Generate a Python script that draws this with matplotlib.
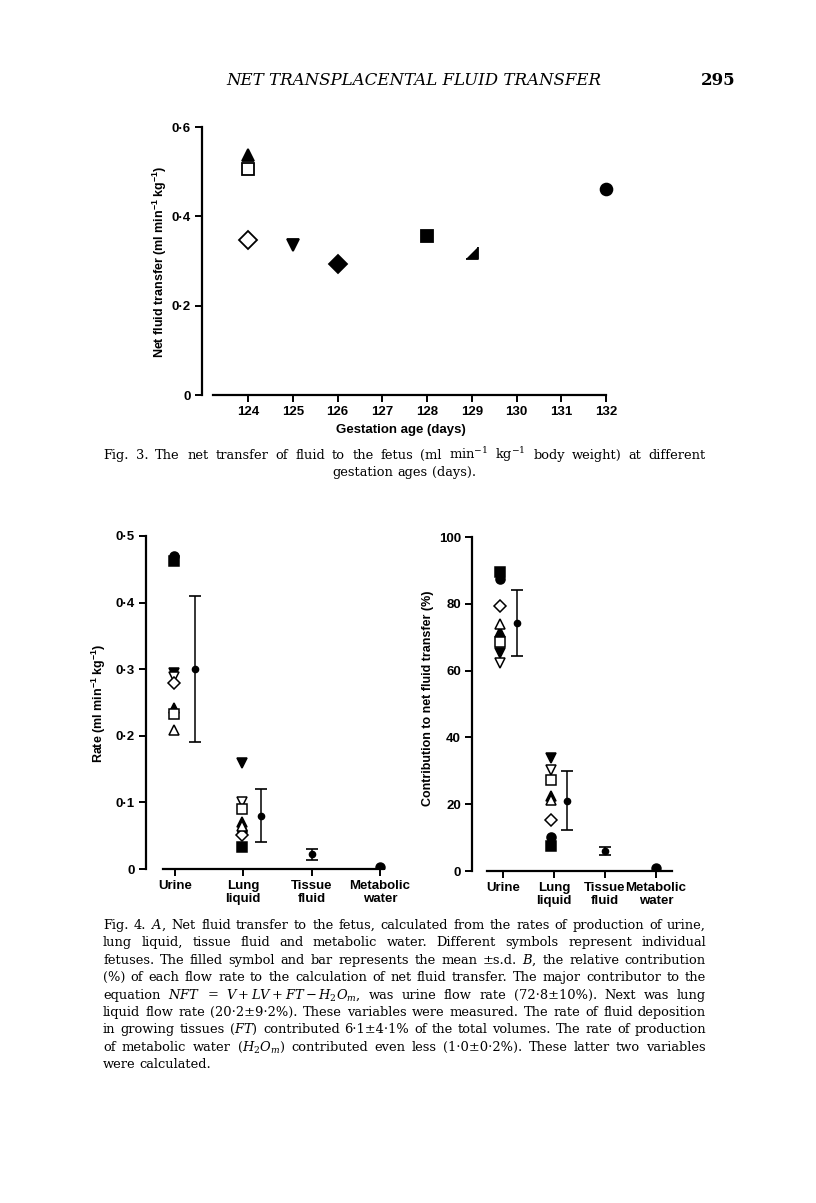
import matplotlib
matplotlib.use('Agg')
import matplotlib.pyplot as plt
from matplotlib.transforms import IdentityTransform

# ---------------- data ----------------
# Fig. 3: net fluid transfer vs gestation age
ages = [124, 124, 124, 125, 126, 128, 129, 132]
nft = [0.537, 0.505, 0.347, 0.336, 0.293, 0.357, 0.319, 0.461]
fig3_symbols = ['^', 's', 'D', 'v', 'D', 's', 'corner', 'o']
fig3_filled = [True, False, False, True, True, True, True, True]
fig3_xticks = [124, 125, 126, 127, 128, 129, 130, 131, 132]
fig3_yticks = [0, 0.2, 0.4, 0.6]
fig3_yticklabels = ['0', '0·2', '0·4', '0·6']

# Fig. 4: individual fetuses (urine and lung liquid) and means
categories = ['Urine', 'Lung\nliquid', 'Tissue\nfluid', 'Metabolic\nwater']
fetus_symbols = ['o', 's', 'v', 'v', 'D', '^', 's', '^']
fetus_filled = [True, True, True, False, False, True, False, False]
urine_rate = [0.470, 0.463, 0.294, 0.288, 0.280, 0.241, 0.233, 0.209]
lung_rate = [0.057, 0.033, 0.159, 0.101, 0.051, 0.071, 0.090, 0.065]
urine_pct = [87.5, 89.5, 65.4, 62.4, 79.2, 71.5, 68.5, 73.9]
lung_pct = [10.2, 7.4, 33.7, 30.2, 15.2, 22.5, 27.2, 21.2]
mean_rate = [0.300, 0.080, 0.022, 0.003]
sd_rate = [0.110, 0.040, 0.008, 0.0]
mean_pct = [74.2, 21.1, 5.9, 0.9]
sd_pct = [9.9, 8.8, 1.2, 0.0]
rate_yticks = [0, 0.1, 0.2, 0.3, 0.4, 0.5]
rate_yticklabels = ['0', '0·1', '0·2', '0·3', '0·4', '0·5']
pct_yticks = [0, 20, 40, 60, 80, 100]
pct_yticklabels = ['0', '20', '40', '60', '80', '100']

header = 'NET TRANSPLACENTAL FLUID TRANSFER'
page_no = '295'
fig3_caption = ['Fig. 3. The net transfer of fluid to the fetus (ml min$^{-1}$ kg$^{-1}$ body weight) at different',
                'gestation ages (days).']
fig4_caption = [
    'Fig. 4. $A$, Net fluid transfer to the fetus, calculated from the rates of production of urine,',
    'lung liquid, tissue fluid and metabolic water. Different symbols represent individual',
    'fetuses. The filled symbol and bar represents the mean ±s.d. $B$, the relative contribution',
    '(%) of each flow rate to the calculation of net fluid transfer. The major contributor to the',
    'equation $NFT$ = $V+LV+FT-H_2O_m$, was urine flow rate (72·8±10%). Next was lung',
    'liquid flow rate (20·2±9·2%). These variables were measured. The rate of fluid deposition',
    'in growing tissues ($FT$) contributed 6·1±4·1% of the total volumes. The rate of production',
    'of metabolic water ($H_2O_m$) contributed even less (1·0±0·2%). These latter two variables',
    'were calculated.',
]

# ---------------- style ----------------
W, H, DPI = 816, 1203, 100
plt.rcParams['font.family'] = ['Liberation Sans', 'DejaVu Sans']
plt.rcParams['mathtext.fontset'] = 'custom'
plt.rcParams['mathtext.rm'] = 'Liberation Sans:bold'
plt.rcParams['mathtext.it'] = 'Liberation Sans:italic:bold'
plt.rcParams['mathtext.bf'] = 'Liberation Sans:bold'
SERIF = ['DejaVu Serif']

fig = plt.figure(figsize=(W / DPI, H / DPI), dpi=DPI)
renderer = fig.canvas.get_renderer()


def box(l, t, r, b):
    return [l / W, 1 - b / H, (r - l) / W, (b - t) / H]


def marker_of(sym):
    if sym == 'corner':
        return [(-1, -1), (1, -1), (1, 1)]
    return sym


def style_axes(ax, lw=1.6):
    for s in ['top', 'right']:
        ax.spines[s].set_visible(False)
    for s in ['left', 'bottom']:
        ax.spines[s].set_linewidth(lw)
    ax.tick_params(width=1.4, length=5, labelsize=9.5, direction='out', pad=3)


def bold_ticks(ax):
    for lab in ax.get_xticklabels() + ax.get_yticklabels():
        lab.set_fontweight('bold')


# ---------------- Fig. 3 ----------------
ax3 = fig.add_axes(box(202, 127, 620, 395))
px = 44.75
ax3.set_xlim(124 - (248 - 202) / px, 124 + (620 - 248) / px)
ax3.set_ylim(0, 0.6)
style_axes(ax3)
ax3.spines['bottom'].set_bounds(124 - (248 - 213) / px, 132)
ax3.set_xticks(fig3_xticks)
ax3.set_yticks(fig3_yticks)
ax3.set_yticklabels(fig3_yticklabels)
bold_ticks(ax3)
for a, v, sym, fl in zip(ages, nft, fig3_symbols, fig3_filled):
    size = {'D': 9, 's': 8.5, 'o': 8.5}.get(sym, 9)
    ax3.plot([a], [v], ls='none', marker=marker_of(sym), ms=size,
             mfc='black' if fl else 'white', mec='black', mew=1.3, clip_on=False)
fig.text(160 / W, 1 - 262 / H, 'Net fluid transfer (ml min$^{-1}$ kg$^{-1}$)', rotation=90,
         ha='center', va='center', fontsize=9, weight='bold')
fig.text(401 / W, 1 - 430 / H, 'Gestation age (days)', ha='center', va='center',
         fontsize=9.5, weight='bold')

# ---------------- Fig. 4A ----------------
axA = fig.add_axes(box(146, 536, 400, 869))
pa = 68.3
axA.set_xlim(1 - (175 - 146) / pa, 1 + (400 - 175) / pa)
axA.set_ylim(0, 0.5)
style_axes(axA)
axA.spines['bottom'].set_bounds(1 - (175 - 163) / pa, 1 + (383 - 175) / pa)
axA.set_xticks([1, 2, 3, 4])
axA.set_xticklabels(categories, linespacing=1.05)
axA.set_yticks(rate_yticks)
axA.set_yticklabels(rate_yticklabels)
bold_ticks(axA)

# ---------------- Fig. 4B ----------------
axB = fig.add_axes(box(472, 537, 690, 871))
pb = 51.0
axB.set_xlim(1 - (503 - 472) / pb, 1 + (690 - 503) / pb)
axB.set_ylim(0, 100)
style_axes(axB)
axB.spines['bottom'].set_bounds(1 - (503 - 487) / pb, 1 + (672 - 503) / pb)
axB.set_xticks([1, 2, 3, 4])
axB.set_xticklabels(categories, linespacing=1.05)
axB.set_yticks(pct_yticks)
axB.set_yticklabels(pct_yticklabels)
bold_ticks(axB)

for ax, ur, lu, mn, sd, ind_off, mean_off in [
        (axA, urine_rate, lung_rate, mean_rate, sd_rate, [-0.01, -0.02], [0.29, 0.26]),
        (axB, urine_pct, lung_pct, mean_pct, sd_pct, [-0.06, -0.06], [0.28, 0.25])]:
    for cat, vals in enumerate([ur, lu]):
        for v, sym, fl in zip(vals, fetus_symbols, fetus_filled):
            ax.plot([cat + 1 + ind_off[cat]], [v], ls='none', marker=sym,
                    ms=6.5,
                    mfc='black' if fl else 'white', mec='black', mew=1.1, clip_on=False)
    xs = [1 + mean_off[0], 2 + mean_off[1], 3, 4]
    for i in range(3):
        ax.errorbar([xs[i]], [mn[i]], yerr=[sd[i]], fmt='o', ms=4.5, color='black',
                    ecolor='black', elinewidth=1.1, capsize=4.5, capthick=1.2, clip_on=False)
    ax.plot([xs[3]], [mn[3]], ls='none', marker='o', ms=6.5, color='black', clip_on=True)

fig.text(99 / W, 1 - 703 / H, 'Rate (ml min$^{-1}$ kg$^{-1}$)', rotation=90,
         ha='center', va='center', fontsize=9, weight='bold')
fig.text(428 / W, 1 - 698 / H, 'Contribution to net fluid transfer (%)', rotation=90,
         ha='center', va='center', fontsize=9, weight='bold')


# ---------------- page text ----------------
def make_text(s, size, **kw):
    return fig.text(0, 0, s, transform=IdentityTransform(), fontsize=size, family=SERIF,
                    weight='normal', math_fontfamily='dejavuserif', ha='left',
                    va='baseline', **kw)


def width_of(s, size):
    t = make_text(s, size)
    w = t.get_window_extent(renderer).width
    t.remove()
    return w


def fit_size(lines, x0, x1, base=10.0):
    sp = width_of('a a', base) - width_of('aa', base)
    nat = 0
    for l in lines:
        ws = l.split(' ')
        nat = max(nat, sum(width_of(w, base) for w in ws) + sp * (len(ws) - 1))
    return base * (x1 - x0) / nat * 0.99


def paragraph(lines, x0, x1, y0, dy, size, justify_last=False, center_last=False):
    sp = width_of('a a', size) - width_of('aa', size)
    for i, line in enumerate(lines):
        words = line.split(' ')
        ts = [make_text(w, size) for w in words]
        ws = [t.get_window_extent(renderer).width for t in ts]
        last = i == len(lines) - 1
        y = H - (y0 + i * dy)
        if last and center_last:
            total = sum(ws) + sp * (len(ws) - 1)
            x = (x0 + x1) / 2 - total / 2
            gap = sp
        elif last and not justify_last:
            x = x0
            gap = sp
        else:
            x = x0
            gap = (x1 - x0 - sum(ws)) / max(len(ws) - 1, 1)
        for t, w in zip(ts, ws):
            t.set_position((x, y))
            x += w + gap


cap_size = fit_size(fig4_caption[:-1] + fig3_caption[:1], 103, 706)
paragraph(fig4_caption, 103, 706, 929, 17.4, cap_size)
paragraph(fig3_caption, 103, 706, 459, 17.4, cap_size, center_last=True)

fig.text(414 / W, 1 - 85 / H, header, ha='center', va='baseline', family=SERIF,
         style='italic', weight='normal', fontsize=12)
fig.text(735 / W, 1 - 85 / H, page_no, ha='right', va='baseline', family=SERIF,
         weight='bold', fontsize=12)

fig.savefig('out.png', dpi=DPI)
